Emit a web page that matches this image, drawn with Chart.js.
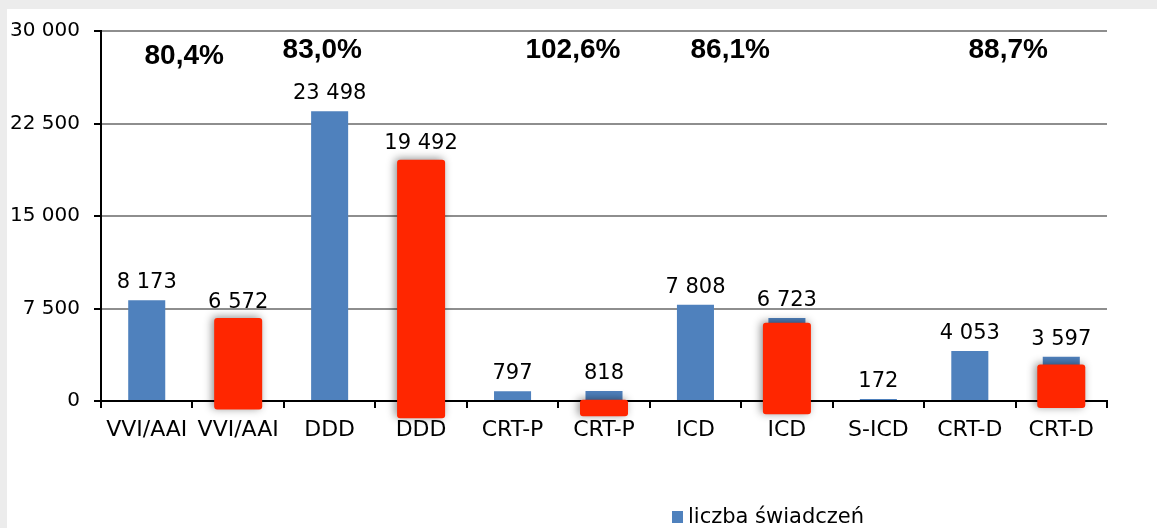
<!DOCTYPE html>
<html>
<head>
<meta charset="utf-8">
<script src="https://cdn.jsdelivr.net/npm/chart.js@4.4.0/dist/chart.umd.min.js"></script>
<style>
html, body { margin: 0; padding: 0; }
body { width: 1157px; height: 528px; background: #ececec; position: relative; overflow: hidden; }
#panel { position: absolute; left: 7px; top: 9px; right: 0; bottom: 0; background: #fff; }
#wrap { position: absolute; left: 0; top: 0; width: 1157px; height: 528px; }
</style>
</head>
<body>
<div id="panel"></div>
<div id="wrap"><canvas id="chart"></canvas></div>
<script>
const categories = ['VVI/AAI', 'VVI/AAI', 'DDD', 'DDD', 'CRT-P', 'CRT-P', 'ICD', 'ICD', 'S-ICD', 'CRT-D', 'CRT-D']
const liczba = [8173, 6572, 23498, 19492, 797, 818, 7808, 6723, 172, 4053, 3597]
// czerwone prostokaty naklejone na slupki: [od, do]
const highlight = [null, [-690, 6720], null, [-1400, 19560], null, [-1240, 110], null, [-1080, 6340], null, null, [-570, 2960]]
const pctLabels = ['80,4%', '83,0%', '102,6%', '86,1%', '88,7%']
const yTicks = [0, 7500, 15000, 22500, 30000]

// where the percentages sit (category units / px below the top of the plot)
const pctX = [0.41, 1.92, 4.66, 6.38, 9.42]
const pctDy = [33, 27, 27, 27, 27]

const fmt = n => String(n).replace(/\B(?=(\d{3})+(?!\d))/g, ' ')

const shadowPlugin = {
    id: 'shadow',
    beforeDatasetDraw(chart, args) {
        if (args.index !== 0) return
        const ctx = chart.ctx
        ctx.save()
        ctx.shadowColor = 'rgba(0,0,0,0.45)'
        ctx.shadowBlur = 8
        ctx.shadowOffsetX = -2
        ctx.shadowOffsetY = -1
    },
    afterDatasetDraw(chart, args) {
        if (args.index !== 0) return
        chart.ctx.restore()
    }
}

const labelsPlugin = {
    id: 'labels',
    afterDatasetsDraw(chart) {
        const ctx = chart.ctx
        const meta = chart.getDatasetMeta(1)
        ctx.save()
        ctx.fillStyle = '#000'
        ctx.textAlign = 'center'
        ctx.textBaseline = 'alphabetic'
        ctx.font = '21px "DejaVu Sans"'
        meta.data.forEach((bar, i) => {
            ctx.fillText(fmt(liczba[i]), bar.x, bar.y - 12)
        })
        ctx.font = 'bold 28px "Liberation Sans"'
        const xs = chart.scales.x
        pctLabels.forEach((t, i) => {
            ctx.fillText(t, xs.getPixelForValue(pctX[i]), chart.chartArea.top + pctDy[i])
        })
        // legenda
        const ds = chart.data.datasets[1]
        ctx.fillStyle = ds.backgroundColor
        ctx.fillRect(672, 511, 11, 12)
        ctx.fillStyle = '#000'
        ctx.textAlign = 'left'
        ctx.font = '21px "DejaVu Sans"'
        ctx.fillText(ds.label, 688, 523)
        ctx.restore()
    }
}

new Chart(document.getElementById('chart'), {
    type: 'bar',
    data: {
        labels: categories,
        datasets: [
            {
                label: 'highlight',
                data: highlight,
                backgroundColor: '#ff2600',
                borderRadius: 3,
                borderSkipped: false,
                grouped: false,
                barPercentage: 0.525,
                categoryPercentage: 1,
                clip: false,
                order: 1
            },
            {
                label: 'liczba świadczeń',
                data: liczba,
                backgroundColor: '#4f81bd',
                grouped: false,
                barPercentage: 0.405,
                categoryPercentage: 1,
                order: 2
            }
        ]
    },
    options: {
        responsive: true,
        maintainAspectRatio: false,
        animation: false,
        layout: { padding: { top: 31, right: 50, left: 0, bottom: 0 } },
        plugins: {
            legend: { display: false },
            tooltip: { enabled: false }
        },
        scales: {
            x: {
                grid: { offset: true, drawOnChartArea: false, tickLength: 7, color: '#000', lineWidth: 2 },
                border: { color: '#000', width: 2 },
                ticks: { color: '#000', font: { family: 'DejaVu Sans', size: 22 }, padding: 9, maxRotation: 0, autoSkip: false },
                afterFit: s => { s.height = 127 }
            },
            y: {
                min: 0,
                max: 30000,
                afterBuildTicks: s => { s.ticks = yTicks.map(v => ({ value: v })) },
                grid: {
                    color: c => (c.tick && c.tick.value === 0 ? '#000' : '#8e8e8e'),
                    lineWidth: 2,
                    tickColor: '#000',
                    tickLength: 7
                },
                border: { color: '#000', width: 2 },
                ticks: { color: '#000', font: { family: 'DejaVu Sans', size: 20 }, padding: 14, callback: v => fmt(v) },
                afterFit: s => { s.width = 101 }
            }
        }
    },
    plugins: [shadowPlugin, labelsPlugin]
})
</script>
</body>
</html>
